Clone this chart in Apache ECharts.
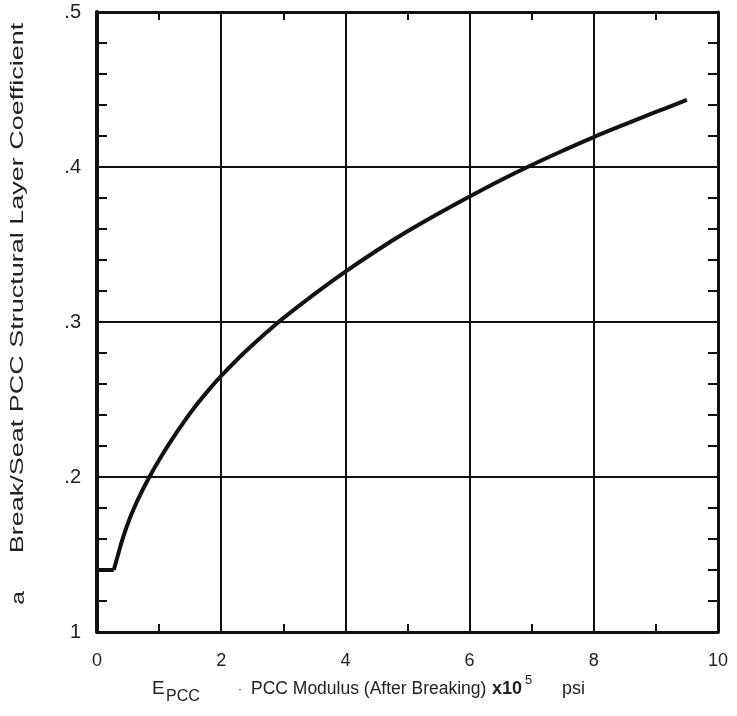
<!DOCTYPE html>
<html>
<head>
<meta charset="utf-8">
<script src="https://cdn.jsdelivr.net/npm/echarts@6/dist/echarts.min.js"></script>
<style>
  html, body { margin: 0; padding: 0; background: #fff; }
  #chart { width: 737px; height: 716px; }
</style>
</head>
<body>
<div id="chart"></div>
<script>
// Break/seat PCC layer coefficient vs. modulus.
var flatX = [0, 0.27];
var flatY = [0.14, 0.14];
var curveX = [0.27, 0.34, 0.42, 0.53, 0.66, 0.83, 1.0, 1.2, 1.4, 1.6, 1.8, 2.0, 2.25, 2.5, 2.75, 3.0, 3.5, 4.0, 4.5, 5.0, 5.5, 6.0, 6.5, 7.0, 7.5, 8.0, 8.5, 9.0, 9.5];
var curveY = [0.14, 0.150, 0.161, 0.1735, 0.1855, 0.199, 0.211, 0.2238, 0.2356, 0.2464, 0.2562, 0.2652, 0.2755, 0.285, 0.294, 0.3025, 0.318, 0.3325, 0.346, 0.3585, 0.370, 0.381, 0.3915, 0.4013, 0.4105, 0.4193, 0.4275, 0.4355, 0.4433];
var yTickLabels = { '0.1': '1', '0.2': '.2', '0.3': '.3', '0.4': '.4', '0.5': '.5' };

function pairs(xs, ys) {
    return xs.map(function(x, i) { return [x, ys[i]]; });
}

var FONT = 'Liberation Sans';
var INK = '#111';
var TXT = '#222';

var chart = echarts.init(document.getElementById('chart'), null, { renderer: 'canvas' });

function xAx(pos, labels) {
    return {
        type: 'value', position: pos, min: 0, max: 10, interval: 2,
        axisLine: { show: true, onZero: false, lineStyle: { color: INK, width: 3 } },
        axisTick: { show: false, inside: true },
        minorTick: { show: true, splitNumber: 2, length: 8, lineStyle: { color: INK, width: 2 } },
        splitLine: { show: pos === 'bottom', lineStyle: { color: INK, width: 2 } },
        axisLabel: { show: labels, color: TXT, fontFamily: FONT, fontSize: 18, margin: 20 }
    };
}

function yAx(pos, labels) {
    return {
        type: 'value', position: pos, min: 0.1, max: 0.5, interval: 0.1,
        axisLine: { show: true, onZero: false, lineStyle: { color: INK, width: pos === 'left' ? 4 : 3 } },
        axisTick: { show: false, inside: true },
        minorTick: { show: true, splitNumber: 5, length: 10, lineStyle: { color: INK, width: 2 } },
        splitLine: { show: pos === 'left', lineStyle: { color: INK, width: 2 } },
        axisLabel: {
            show: labels, color: TXT, fontFamily: FONT, fontSize: 20, margin: 16,
            formatter: function(v) { return yTickLabels[v.toFixed(1)] || ''; }
        }
    };
}

var lineStyle = { color: INK, width: 4 };

function label(x, y, text, font) {
    return { type: 'text', x: x, y: y, style: { text: text, font: font + ' ' + FONT, fill: TXT, align: 'left', verticalAlign: 'middle' } };
}

chart.setOption({
    animation: false,
    backgroundColor: '#fff',
    grid: { left: 97, right: 19, top: 12, bottom: 84 },
    xAxis: [xAx('bottom', true), xAx('top', false)],
    yAxis: [yAx('left', true), yAx('right', false)],
    series: [
        { type: 'line', data: pairs(flatX, flatY), showSymbol: false, lineStyle: lineStyle, z: 5 },
        { type: 'line', data: pairs(curveX, curveY), showSymbol: false, smooth: 0.4, lineStyle: lineStyle, z: 5 }
    ],
    graphic: [
        {
            type: 'text', x: 18, y: 288, rotation: Math.PI / 2, scaleX: 1.42,
            style: {
                text: 'Break/Seat PCC Structural Layer Coefficient',
                font: '19px ' + FONT, fill: TXT, align: 'center', verticalAlign: 'middle'
            }
        },
        {
            type: 'text', x: 19, y: 598, rotation: Math.PI / 2, scaleX: 1.3,
            style: { text: 'a', font: '19px ' + FONT, fill: TXT, align: 'center', verticalAlign: 'middle' }
        },
        label(152, 689, 'E', '19px'),
        label(166, 697, 'PCC', '16px'),
        label(238, 690, '\u00b7', '12px'),
        label(251, 689, 'PCC Modulus (After Breaking)', '17.5px'),
        label(492, 689, 'x10', 'bold 18px'),
        label(525, 680, '5', '13px'),
        label(562, 689, 'psi', '18px')
    ]
});
</script>
</body>
</html>
